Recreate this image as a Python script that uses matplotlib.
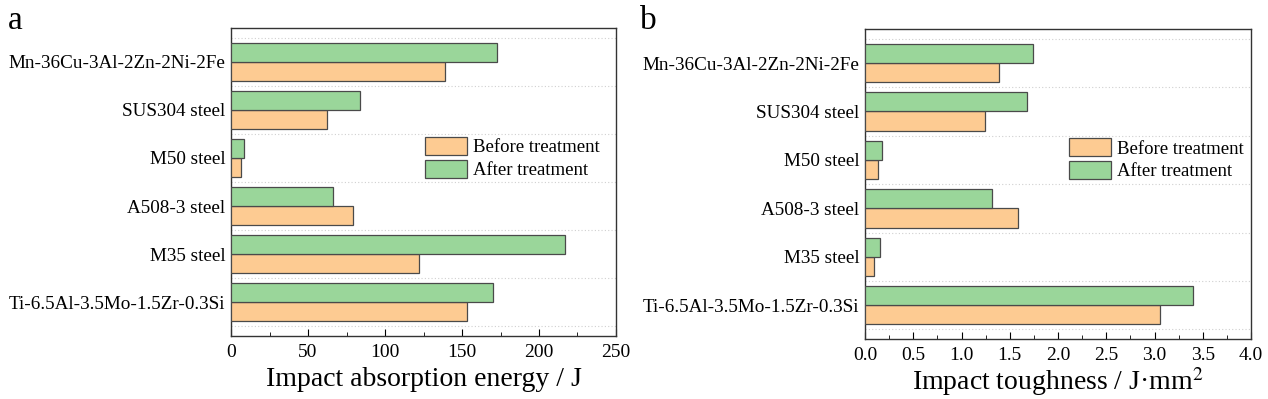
import matplotlib.pyplot as plt
import numpy as np
from matplotlib.ticker import MultipleLocator

plt.rcParams["font.family"] = ["Liberation Serif", "DejaVu Serif"]
plt.rcParams["mathtext.fontset"] = "stix"

# categories listed bottom to top, as drawn
materials = ["Ti-6.5Al-3.5Mo-1.5Zr-0.3Si", "M35 steel", "A508-3 steel",
             "M50 steel", "SUS304 steel", "Mn-36Cu-3Al-2Zn-2Ni-2Fe"]

energy_before = [153, 122, 79, 6.5, 62, 139]
energy_after = [170, 217, 66, 8.5, 84, 173]

tough_before = [3.06, 0.09, 1.59, 0.13, 1.24, 1.39]
tough_after = [3.40, 0.16, 1.32, 0.18, 1.68, 1.74]

c_before = "#fdcb92"
c_after = "#9ad69a"
edge = "#4a4a4a"


def draw_panel(ax, before, after, xmax, major, minor, xlabel, leg_anchor, lpad):
    y = np.arange(len(materials))
    h = 0.396
    ax.barh(y - h / 2, before, height=h, color=c_before, edgecolor=edge,
            linewidth=0.9, label="Before treatment", zorder=3)
    ax.barh(y + h / 2, after, height=h, color=c_after, edgecolor=edge,
            linewidth=0.9, label="After treatment", zorder=3)
    ax.set_yticks(y)
    ax.set_yticklabels(materials, fontsize=13.8)
    ax.set_yticks(np.arange(-0.5, len(materials)), minor=True)
    ax.set_ylim(-0.7, len(materials) - 0.3)
    ax.set_xlim(0, xmax)
    ax.xaxis.set_major_locator(MultipleLocator(major))
    ax.xaxis.set_minor_locator(MultipleLocator(minor))
    ax.tick_params(axis="x", which="major", direction="in", length=5,
                   labelsize=14, pad=6)
    ax.tick_params(axis="x", which="minor", direction="in", length=3)
    ax.tick_params(axis="y", which="both", length=0, pad=4)
    ax.grid(axis="y", which="minor", linestyle=(0, (1, 2)), color="#d0d0d0",
            linewidth=0.8, zorder=0)
    for s in ax.spines.values():
        s.set_color("#333333")
        s.set_linewidth(1.0)
    ax.set_xlabel(xlabel, fontsize=20, labelpad=lpad)
    ax.legend(loc="upper left", bbox_to_anchor=leg_anchor, frameon=False,
              fontsize=13.5, handlelength=2.24, handleheight=1.1,
              labelspacing=0.18, handletextpad=0.32, borderpad=0,
              borderaxespad=0)


fig = plt.figure(figsize=(12.68, 3.99), dpi=100)
ax_a = fig.add_axes([0.1822, 0.158, 0.3036, 0.772])
ax_b = fig.add_axes([0.6822, 0.150, 0.3044, 0.777])

draw_panel(ax_a, energy_before, energy_after, 250, 50, 25,
           "Impact absorption energy / J", (0.504, 0.646), 4)
draw_panel(ax_b, tough_before, tough_after, 4.0, 0.5, 0.25,
           "Impact toughness / J·mm$^2$", (0.528, 0.648), 0.5)
ax_b.xaxis.set_major_formatter(plt.FormatStrFormatter("%.1f"))

fig.text(0.006, 0.985, "a", fontsize=24, va="top", ha="left")
fig.text(0.505, 0.985, "b", fontsize=24, va="top", ha="left")

fig.savefig("out.png", dpi=100)
